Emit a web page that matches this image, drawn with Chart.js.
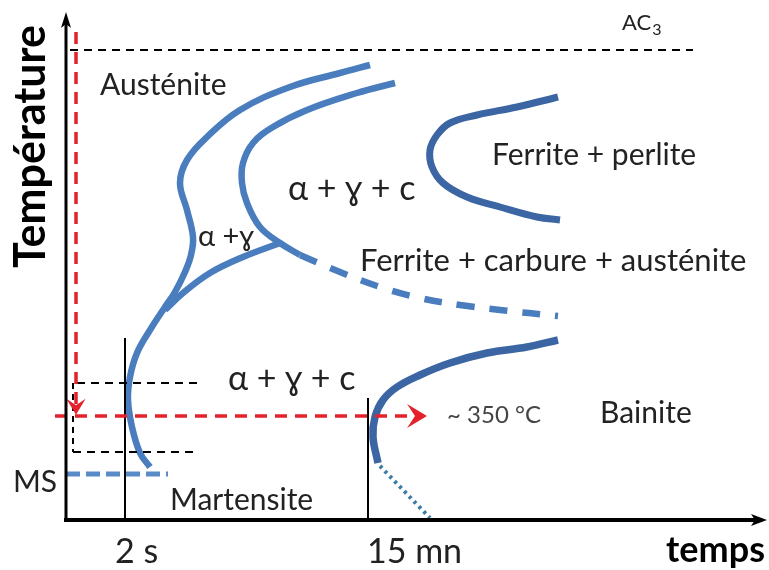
<!DOCTYPE html>
<html><head><meta charset="utf-8">
<script src="https://cdn.jsdelivr.net/npm/chart.js@4"></script>
<style>html,body{margin:0;padding:0;background:#fff}canvas{display:block}</style>
</head><body>
<canvas id="c" width="769" height="570"></canvas>
<script>
// Diagram units: x = time (arbitrary, log-like), y = temperature (arbitrary)
const ferriteStartCurve = [[304,455],[274,447],[224,433],[174,410],[141,383],[121,360],[114,337],[121,310],[127,283],[125,265],[119,248],[109,228],[99,213],[84,190],[71,167],[64,143],[62,120],[66,93],[74,67],[84,53]];
const carbideStartCurve = [[329,437],[291,427],[241,410],[207,393],[187,377],[177,357],[176,337],[181,317],[194,293],[214,277],[234,265]];
const carbideBranch = [[214,277],[177,263],[144,247],[117,227],[99,210]];
const carbideDashed = [[234,265],[274,248],[314,233],[354,222],[394,215],[434,210],[492,204]];
const pearliteCurve = [[492,423],[451,413],[411,405],[384,397],[371,385],[364,370],[366,353],[377,337],[401,323],[434,313],[471,303],[494,300]];
const bainiteCurve = [[492,180],[461,173],[421,167],[384,157],[354,145],[331,133],[317,120],[309,103],[307,83],[312,57]];
const bainiteDotted = [[314,54],[364,2]];
const msLine = [[0,46],[102,46]];
const ac3Line = [[4,470],[627,470]];
const quenchDown = [[10,488],[10,114]];
const holdLine = [[-11,104],[350,104]];
const upperGuide = [[11,137],[136,137]];
const lowerGuide = [[7,68],[129,68]];
const guideVertical = [[7,137],[7,68]];
const tick2s = [[59,0],[59,182]];
const tick15mn = [[302,0],[302,122]];
const timeTicks = ['2 s','15 mn'];
const regionLabels = ['Austénite','Ferrite + perlite','α + ɣ + c','α +ɣ','Ferrite + carbure + austénite','α + ɣ + c','Bainite','Martensite','~ 350 °C','MS'];

const pts = a => a.map(p => ({x:p[0], y:p[1]}));
const BLUE = '#4a7dbd', DARK = '#3b66a3';
function ds(data, color, width, dash, order, extra){
  return Object.assign({data:pts(data), borderColor:color, borderWidth:width, borderDash:dash||[],
    pointRadius:0, tension:0.4, fill:false, order:order, clip:false, showLine:true, borderCapStyle:'butt'}, extra||{});
}
const datasets = [
  ds(quenchDown,'#e3222b',3.5,[12,8],0,{tension:0,arrow:16}),
  ds(holdLine,'#e3222b',3.5,[12,8],0,{tension:0,arrow:20}),
  ds(tick2s,'#000',2,[],1,{tension:0}),
  ds(tick15mn,'#000',2,[],1,{tension:0}),
  ds(ac3Line,'#000',2,[8,6],1,{tension:0}),
  ds(upperGuide,'#000',2,[8,6],1,{tension:0}),
  ds(lowerGuide,'#000',2,[8,6],1,{tension:0}),
  ds(guideVertical,'#000',2,[6,5],1,{tension:0}),
  ds(ferriteStartCurve,BLUE,6.5,[],2),
  ds(carbideStartCurve,BLUE,6.5,[],2),
  ds(carbideBranch,BLUE,6.5,[],2),
  ds(carbideDashed,BLUE,6.5,[18,15],2),
  ds(pearliteCurve,DARK,7,[],2),
  ds(bainiteCurve,DARK,7.5,[],2),
  ds(bainiteDotted,'#3a7ca5',4,[3,4],2,{tension:0}),
  ds(msLine,'#5a8bc9',5,[14,6],2,{tension:0}),
];

// label placements [x, y] in diagram units (left edge, baseline)
const labelPlaces = [[34,425],[426,355],[222,320],[132,274],[294,249],[162,130],[534,97],[104,10],[381,97],[-53,28]];
const labelSizes = [30,30,34,29,31,34,30,30,24,30];
const tickPlaces = [[49,-43],[301,-43]];

const overlay = {
  id:'overlay',
  afterDatasetsDraw(chart){
    const {ctx, scales:{x, y}} = chart;
    const X = v => x.getPixelForValue(v), Y = v => y.getPixelForValue(v);
    ctx.save();
    chart.data.datasets.forEach(d => {
      if (!d.arrow) return;
      const n = d.data.length, a = d.data[n-2], b = d.data[n-1];
      const ang = Math.atan2(Y(b.y)-Y(a.y), X(b.x)-X(a.x));
      const L = d.arrow, tx = X(b.x)+Math.cos(ang)*L*0.55, ty = Y(b.y)+Math.sin(ang)*L*0.55;
      ctx.save(); ctx.translate(tx, ty); ctx.rotate(ang);
      ctx.fillStyle = d.borderColor; ctx.beginPath();
      ctx.moveTo(0,0); ctx.lineTo(-L,-L*0.6); ctx.lineTo(-L*0.6,0); ctx.lineTo(-L,L*0.6); ctx.closePath(); ctx.fill();
      ctx.restore();
    });
    ctx.strokeStyle = '#000'; ctx.fillStyle = '#000';
    ctx.lineWidth = 3;
    ctx.beginPath(); ctx.moveTo(X(0), Y(0)+2); ctx.lineTo(X(0), Y(496)); ctx.stroke();
    ctx.beginPath(); ctx.moveTo(X(0), Y(508)); ctx.lineTo(X(0)-5, Y(492)); ctx.lineTo(X(0), Y(496)); ctx.lineTo(X(0)+5, Y(492)); ctx.closePath(); ctx.fill();
    ctx.lineWidth = 4;
    ctx.beginPath(); ctx.moveTo(X(0)-2, Y(0)); ctx.lineTo(X(690), Y(0)); ctx.stroke();
    ctx.beginPath(); ctx.moveTo(X(701), Y(0)); ctx.lineTo(X(685), Y(0)-6); ctx.lineTo(X(689), Y(0)); ctx.lineTo(X(685), Y(0)+6); ctx.closePath(); ctx.fill();
    ctx.textBaseline = 'alphabetic'; ctx.textAlign = 'left';
    const fam = 'Lato, "DejaVu Sans", sans-serif';
    regionLabels.forEach((t,i) => {
      ctx.font = labelSizes[i] + 'px ' + fam;
      ctx.fillStyle = i === 8 ? '#444' : '#222';
      ctx.fillText(t, X(labelPlaces[i][0]), Y(labelPlaces[i][1]));
    });
    ctx.fillStyle = '#222';
    ctx.font = '22px ' + fam; ctx.fillText('AC', X(556), Y(490));
    const w = ctx.measureText('AC').width;
    ctx.font = '16px ' + fam; ctx.fillText('3', X(556)+w+1, Y(490)+5);
    ctx.font = '34px ' + fam;
    timeTicks.forEach((t,i) => ctx.fillText(t, X(tickPlaces[i][0]), Y(tickPlaces[i][1])));
    ctx.fillStyle = '#000';
    ctx.font = 'bold 36px ' + fam; ctx.textAlign = 'right';
    ctx.fillText('temps', X(699), Y(-42));
    ctx.save(); ctx.translate(X(-21), Y(252)); ctx.rotate(-Math.PI/2);
    ctx.textAlign = 'left'; ctx.font = 'bold 43px ' + fam; ctx.fillText('Température', 0, 0);
    ctx.restore();
    ctx.restore();
  }
};

new Chart(document.getElementById('c'), {
  type:'scatter',
  data:{datasets},
  options:{
    responsive:false, animation:false, events:[],
    layout:{padding:{left:66, right:0, top:10, bottom:50}},
    scales:{
      x:{type:'linear', min:0, max:703, display:false},
      y:{type:'linear', min:0, max:510, display:false}
    },
    plugins:{legend:{display:false}, tooltip:{enabled:false}}
  },
  plugins:[overlay]
});
</script>
</body></html>
